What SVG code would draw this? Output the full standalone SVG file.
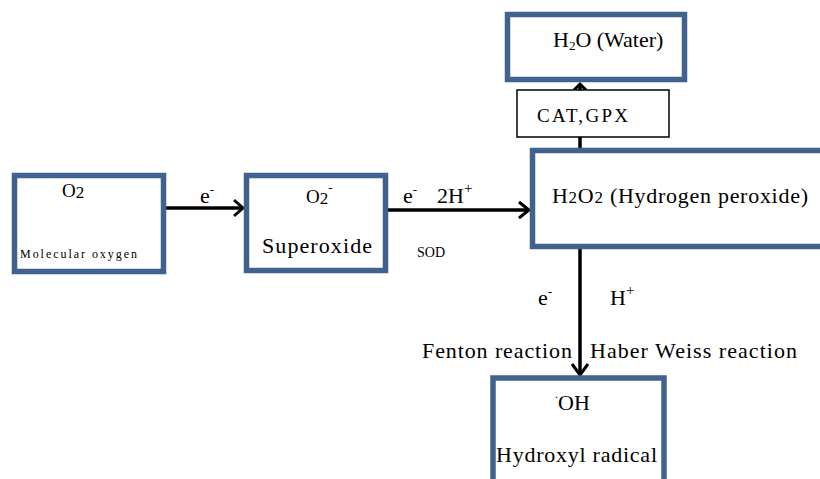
<svg xmlns="http://www.w3.org/2000/svg" width="820" height="479" viewBox="0 0 820 479">
<style>
.box{fill:#fff;stroke:#41628f;stroke-width:5.5}
.thin{fill:#fff;stroke:#000;stroke-width:1.5}
.ln{stroke:#000;stroke-width:3.5;fill:none}
.hd{stroke:#000;stroke-width:3;fill:none;stroke-linejoin:miter}
</style>
<rect width="820" height="479" fill="#fff"/>
<g id="connectors">
<line class="ln" x1="166" y1="208" x2="242" y2="208"/>
<polyline class="hd" points="234,200 243,208 234,216"/>
<line class="ln" x1="388" y1="210" x2="528" y2="210"/>
<polyline class="hd" points="519,202 529,210 519,218"/>
<line class="ln" x1="580" y1="148" x2="580" y2="85"/>
<polyline class="hd" points="574,90 580,84 586,90"/>
<line class="ln" x1="580" y1="248" x2="580" y2="375"/>
<polyline class="hd" points="572,364 580,375 588,364"/>
<text font-family="Liberation Serif" font-size="22" x="200" y="203">e<tspan dy="-9" font-size="13">-</tspan></text>
<text font-family="Liberation Serif" font-size="22" x="403" y="203">e<tspan dy="-9" font-size="13">-</tspan></text>
<text font-family="Liberation Serif" font-size="22" x="437" y="203">2H<tspan dy="-10" font-size="15">+</tspan></text>
<text font-family="Liberation Serif" font-size="14" x="417" y="257">SOD</text>
<text font-family="Liberation Serif" font-size="22" x="538" y="305">e<tspan dy="-9" font-size="13">-</tspan></text>
<text font-family="Liberation Serif" font-size="22" x="610" y="305">H<tspan dy="-10" font-size="15">+</tspan></text>
<text font-family="Liberation Serif" font-size="22" x="422" y="358" textLength="150">Fenton reaction</text>
<text font-family="Liberation Serif" font-size="22" x="590" y="358" textLength="207">Haber Weiss reaction</text>
</g>
<g id="n-o2">
<rect class="box" x="14.5" y="175.5" width="149" height="96"/>
<text font-family="Liberation Serif" font-size="19" x="62" y="197">O<tspan font-size="17" dy="1">2</tspan></text>
<text font-family="Liberation Serif" font-size="12" x="20" y="258" textLength="117">Molecular oxygen</text>
</g>
<g id="n-superoxide">
<rect class="box" x="246.5" y="175.5" width="139" height="95"/>
<text font-family="Liberation Serif" font-size="19" x="306" y="203">O<tspan font-size="17" dy="1">2</tspan><tspan font-size="13" dy="-12">-</tspan></text>
<text font-family="Liberation Serif" font-size="22" x="262" y="253" textLength="110">Superoxide</text>
</g>
<g id="n-h2o2">
<rect class="box" x="532.5" y="150.5" width="310" height="96"/>
<text font-family="Liberation Serif" font-size="22" x="552" y="203" textLength="256">H<tspan font-size="17">2</tspan>O<tspan font-size="17">2</tspan> (Hydrogen peroxide)</text>
</g>
<g id="n-h2o">
<rect class="box" x="507.5" y="14.5" width="177" height="65"/>
<text font-family="Liberation Serif" font-size="22" x="553" y="47">H<tspan font-size="13" dy="3">2</tspan><tspan dy="-3">O (Water)</tspan></text>
</g>
<g id="n-catgpx">
<rect class="thin" x="517" y="90" width="152" height="47"/>
<text font-family="Liberation Serif" font-size="19" x="537" y="122" textLength="91">CAT,GPX</text>
</g>
<g id="n-oh">
<rect class="box" x="493" y="378" width="171" height="130"/>
<text font-family="Liberation Serif" font-size="22" x="555" y="410"><tspan font-size="12" dy="-12">.</tspan><tspan dy="12">OH</tspan></text>
<text font-family="Liberation Serif" font-size="22" x="496" y="462" textLength="161">Hydroxyl radical</text>
</g>
</svg>
